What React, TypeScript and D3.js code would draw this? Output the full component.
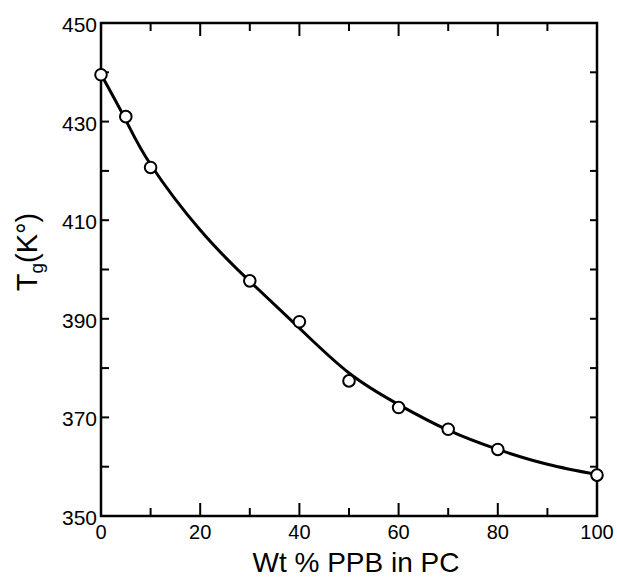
import React from "react";
import * as d3 from "d3";

const pointX = [0, 5, 10, 30, 40, 50, 60, 70, 80, 100];
const pointY = [439.5, 431.0, 420.7, 397.7, 389.4, 377.4, 372.0, 367.6, 363.5, 358.3];

const curveX = [0, 5, 10, 20, 30, 40, 50, 60, 70, 80, 90, 100];
const curveY = [439.6, 430.3, 421.3, 408.0, 397.6, 388.1, 379.0, 372.6, 367.4, 363.5, 360.5, 358.4];

const xTickLabels = [0, 20, 40, 60, 80, 100];
const yTickLabels = [350, 370, 390, 410, 430, 450];

const W = 617;
const H = 577;
const L = 101, R = 597, T = 23, B = 516;

export default function App() {
  const x = d3.scaleLinear().domain([0, 100]).range([L, R]);
  const y = d3.scaleLinear().domain([350, 450]).range([B, T]);
  const line = d3
    .line<number>()
    .x((_, i) => x(curveX[i]))
    .y((d) => y(d))
    .curve(d3.curveNatural);

  const font = "'Liberation Sans', Arial, Helvetica, sans-serif";
  const xMinor = d3.range(10, 100, 10);
  const yMinor = d3.range(360, 450, 10);
  const sw = 2.5;

  return (
    <svg
      width={W}
      height={H}
      style={{ position: "absolute", left: 0, top: 0, background: "#fff" }}
      fontFamily={font}
    >
      <rect x={L} y={T} width={R - L} height={B - T} fill="none" stroke="#000" strokeWidth={sw} />
      {xMinor.map((v) => {
        const len = v % 20 === 0 ? 13 : 8;
        return (
          <g key={"xt" + v}>
            <line x1={x(v)} x2={x(v)} y1={B} y2={B - len} stroke="#000" strokeWidth={2} />
            <line x1={x(v)} x2={x(v)} y1={T} y2={T + len} stroke="#000" strokeWidth={2} />
          </g>
        );
      })}
      {yMinor.map((v) => (
        <g key={"yt" + v}>
          <line x1={L} x2={L + 8} y1={y(v)} y2={y(v)} stroke="#000" strokeWidth={2} />
          <line x1={R} x2={R - 7} y1={y(v)} y2={y(v)} stroke="#000" strokeWidth={2} />
        </g>
      ))}
      {xTickLabels.map((v) => (
        <text key={"xl" + v} x={x(v)} y={539} fontSize={20} textAnchor="middle" fill="#000">
          {v}
        </text>
      ))}
      {yTickLabels.map((v) => (
        <text key={"yl" + v} x={97} y={y(v) + 9} fontSize={21} textAnchor="end" fill="#000">
          {v}
        </text>
      ))}
      <path d={line(curveY) || ""} fill="none" stroke="#000" strokeWidth={3} />
      {pointX.map((v, i) => (
        <circle key={"p" + i} cx={x(v)} cy={y(pointY[i])} r={5.8} fill="#fff" stroke="#000" strokeWidth={2} />
      ))}
      <text x={356} y={572} fontSize={28} textAnchor="middle" fill="#000">
        Wt % PPB in PC
      </text>
      <text transform="translate(37,252) rotate(-90)" textAnchor="middle" fontSize={29} fill="#000">
        <tspan>T</tspan>
        <tspan fontSize={19} dy={6}>g</tspan>
        <tspan dy={-6}>(K°)</tspan>
      </text>
    </svg>
  );
}
